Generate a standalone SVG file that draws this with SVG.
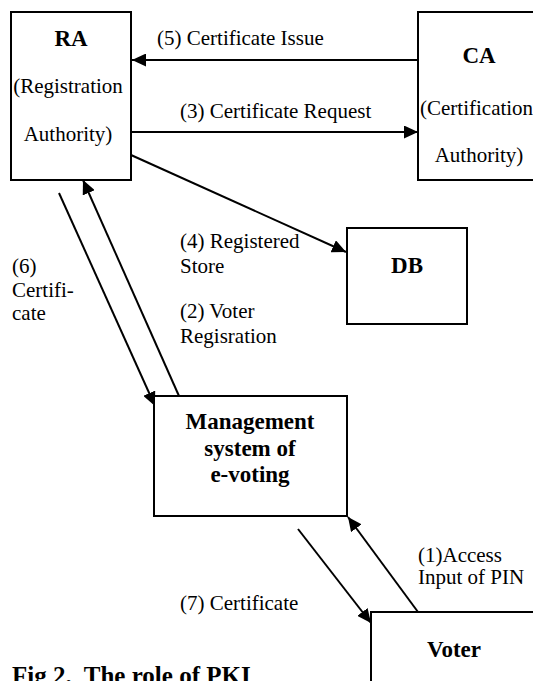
<svg xmlns="http://www.w3.org/2000/svg" width="533" height="681" viewBox="0 0 533 681">
  <style>
    .box { fill: #fff; stroke: #000; stroke-width: 2; }
    .t { font-family: "Liberation Serif", "Times New Roman", serif; font-size: 21px; fill: #000; }
    .b { font-family: "Liberation Serif", "Times New Roman", serif; font-size: 23px; font-weight: bold; fill: #000; text-anchor: middle; }
    .c { text-anchor: middle; }
    .ln { stroke: #000; stroke-width: 2; fill: none; }
  </style>
  <defs>
    <marker id="ah" markerUnits="userSpaceOnUse" markerWidth="15" markerHeight="13" refX="14" refY="6.5" orient="auto">
      <path d="M0,0 L14,6.5 L0,13 z" fill="#000"/>
    </marker>
  </defs>
  <rect width="533" height="681" fill="#fff"/>

  <g id="connectors">
    <line class="ln" x1="418" y1="60" x2="132" y2="60" marker-end="url(#ah)"/>
    <line class="ln" x1="131" y1="132" x2="418" y2="132" marker-end="url(#ah)"/>
    <line class="ln" x1="131" y1="155" x2="346" y2="252" marker-end="url(#ah)"/>
    <line class="ln" x1="179" y1="396" x2="83" y2="180" marker-end="url(#ah)"/>
    <line class="ln" x1="59" y1="193" x2="155" y2="406" marker-end="url(#ah)"/>
    <line class="ln" x1="298" y1="529" x2="371" y2="623" marker-end="url(#ah)"/>
    <line class="ln" x1="418" y1="612" x2="348" y2="517" marker-end="url(#ah)"/>
    <text class="t" x="157" y="45">(5) Certificate Issue</text>
    <text class="t" x="180" y="118">(3) Certificate Request</text>
    <text class="t" x="180" y="248">(4) Registered</text>
    <text class="t" x="180" y="273">Store</text>
    <text class="t" x="180" y="318">(2) Voter</text>
    <text class="t" x="180" y="343">Regisration</text>
    <text class="t" x="12" y="273">(6)</text>
    <text class="t" x="12" y="297">Certifi-</text>
    <text class="t" x="12" y="320">cate</text>
    <text class="t" x="180" y="610">(7) Certificate</text>
    <text class="t" x="418" y="562">(1)Access</text>
    <text class="t" x="418" y="584">Input of PIN</text>
  </g>

  <g id="ra">
    <rect class="box" x="11" y="12" width="120" height="168"/>
    <text class="b" x="71" y="46">RA</text>
    <text class="t c" x="68" y="93">(Registration</text>
    <text class="t c" x="68" y="141">Authority)</text>
  </g>

  <g id="ca">
    <rect class="box" x="418" y="12" width="122" height="168"/>
    <text class="b" x="479" y="63">CA</text>
    <text class="t" x="420" y="115">(Certification</text>
    <text class="t c" x="479" y="162">Authority)</text>
  </g>

  <g id="db">
    <rect class="box" x="347" y="228" width="120" height="96"/>
    <text class="b" x="407" y="273">DB</text>
  </g>

  <g id="mgmt">
    <rect class="box" x="154" y="396" width="193" height="120"/>
    <text class="b" x="250" y="429">Management</text>
    <text class="b" x="250" y="456">system of</text>
    <text class="b" x="250" y="482">e-voting</text>
  </g>

  <g id="voter">
    <rect class="box" x="371" y="612" width="180" height="100"/>
    <text class="b" x="454" y="657">Voter</text>
  </g>

  <g id="caption">
    <text x="12" y="684" xml:space="preserve" style="font-family:'Liberation Serif','Times New Roman',serif;font-size:25px;font-weight:bold;fill:#000">Fig 2.  The role of PKI</text>
  </g>
</svg>
